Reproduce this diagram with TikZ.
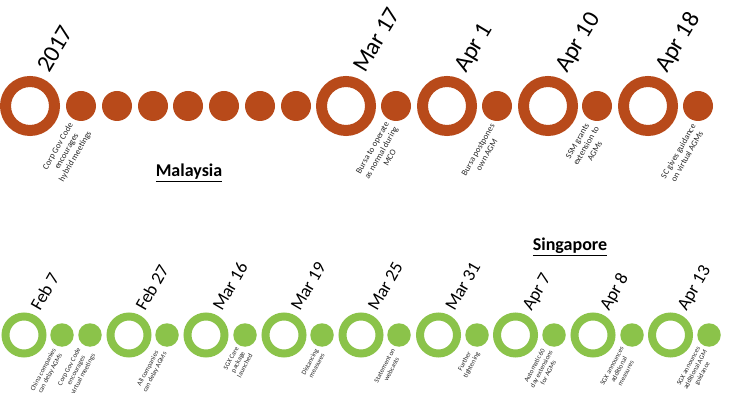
\documentclass[tikz,border=0pt]{standalone}
\usepackage{fontspec}
\setmainfont{Carlito}
\definecolor{myorange}{RGB}{184,74,26}
\definecolor{mygreen}{RGB}{139,195,74}
\definecolor{notegray}{RGB}{40,40,40}
\begin{document}
\begin{tikzpicture}[x=1pt,y=-1pt,
  bigring/.style={circle,draw=myorange,line width=11pt,minimum size=49pt,inner sep=0pt,outer sep=0pt},
  bigdot/.style={circle,fill=myorange,minimum size=30pt,inner sep=0pt,outer sep=0pt},
  smallring/.style={circle,draw=mygreen,line width=8pt,minimum size=37pt,inner sep=0pt,outer sep=0pt},
  smalldot/.style={circle,fill=mygreen,minimum size=23.5pt,inner sep=0pt,outer sep=0pt},
  bigdate/.style={rotate=59,anchor=base west,inner sep=0pt,font=\fontsize{24}{28}\selectfont},
  smalldate/.style={rotate=60,anchor=base west,inner sep=0pt,font=\fontsize{18}{21}\selectfont},
  topnote/.style={rotate=60,anchor=east,align=center,inner sep=0pt,text=notegray,font=\fontsize{8.6}{10}\selectfont},
  botnote/.style={rotate=62,anchor=east,align=center,inner sep=0pt,text=notegray,font=\fontsize{6.8}{7.8}\selectfont},
  heading/.style={font=\bfseries\fontsize{18}{21}\selectfont}
]
\useasboundingbox (0,0) rectangle (746,419);

% ---------- Malaysia row ----------
\node[bigring] (m1) at (30,106) {};
\node[bigdot] (md1) at (81,106) {};
\node[bigdot] (md2) at (117,106) {};
\node[bigdot] (md3) at (153,106) {};
\node[bigdot] (md4) at (188,106) {};
\node[bigdot] (md5) at (224,106) {};
\node[bigdot] (md6) at (260,106) {};
\node[bigdot] (md7) at (296,106) {};
\node[bigring] (m2) at (346,106) {};
\node[bigdot] (md8) at (396,106) {};
\node[bigring] (m3) at (447,106) {};
\node[bigdot] (md9) at (497,106) {};
\node[bigring] (m4) at (548,106) {};
\node[bigdot] (md10) at (597,106) {};
\node[bigring] (m5) at (648,106) {};
\node[bigdot] (md11) at (698,106) {};

\node[bigdate] (ml1) at ([shift={(19,-32)}]m1.center) {2017};
\node[bigdate] (ml2) at ([shift={(19,-32)}]m2.center) {Mar 17};
\node[bigdate] (ml3) at ([shift={(19,-32)}]m3.center) {Apr 1};
\node[bigdate] (ml4) at ([shift={(19,-32)}]m4.center) {Apr 10};
\node[bigdate] (ml5) at ([shift={(19,-32)}]m5.center) {Apr 18};

\node[topnote] (mn1) at ([shift={(0,6)}]md1.south) {Corp Gov Code\\encourages\\hybrid meetings};
\node[topnote] (mn2) at ([shift={(0,6)}]md8.south) {Bursa to operate\\as normal during\\MCO};
\node[topnote] (mn3) at ([shift={(0,6)}]md9.south) {Bursa postpones\\own AGM};
\node[topnote] (mn4) at ([shift={(0,6)}]md10.south) {SSM grants\\extension to\\AGMs};
\node[topnote] (mn5) at ([shift={(0,6)}]md11.south) {SC gives guidance\\on virtual AGMs};

\node[heading] (malaysia) at (189,173) {\underline{Malaysia}};

% ---------- Singapore row ----------
\node[heading] (singapore) at (570,247) {\underline{Singapore}};

\node[smallring] (s1) at (24,335) {};
\node[smalldot] (sd1) at (62,335) {};
\node[smalldot] (sd2) at (90,335) {};
\node[smallring] (s2) at (129,335) {};
\node[smalldot] (sd3) at (167,335) {};
\node[smallring] (s3) at (206,335) {};
\node[smalldot] (sd4) at (245,335) {};
\node[smallring] (s4) at (284,335) {};
\node[smalldot] (sd5) at (322,335) {};
\node[smallring] (s5) at (361,335) {};
\node[smalldot] (sd6) at (399,335) {};
\node[smallring] (s6) at (438.5,335) {};
\node[smalldot] (sd7) at (477,335) {};
\node[smallring] (s7) at (515.5,335) {};
\node[smalldot] (sd8) at (554,335) {};
\node[smallring] (s8) at (593,335) {};
\node[smalldot] (sd9) at (632,335) {};
\node[smallring] (s9) at (670.5,335) {};
\node[smalldot] (sd10) at (709,335) {};

\node[smalldate] (sl1) at ([shift={(16,-23)}]s1.center) {Feb 7};
\node[smalldate] (sl2) at ([shift={(16,-23)}]s2.center) {Feb 27};
\node[smalldate] (sl3) at ([shift={(16,-23)}]s3.center) {Mar 16};
\node[smalldate] (sl4) at ([shift={(16,-23)}]s4.center) {Mar 19};
\node[smalldate] (sl5) at ([shift={(16,-23)}]s5.center) {Mar 25};
\node[smalldate] (sl6) at ([shift={(16,-23)}]s6.center) {Mar 31};
\node[smalldate] (sl7) at ([shift={(16,-23)}]s7.center) {Apr 7};
\node[smalldate] (sl8) at ([shift={(16,-23)}]s8.center) {Apr 8};
\node[smalldate] (sl9) at ([shift={(16,-23)}]s9.center) {Apr 13};

\node[botnote] (sn1) at ([shift={(-4,4)}]sd1.south) {China companies\\can delay AGMs};
\node[botnote] (sn2) at ([shift={(-3,4)}]sd2.south) {Corp Gov Code\\encourages\\virtual meetings};
\node[botnote] (sn3) at ([shift={(-5,4)}]sd3.south) {All companies\\can delay AGMs};
\node[botnote] (sn4) at ([shift={(-1,4)}]sd4.south) {SGX Care\\package\\launched};
\node[botnote] (sn5) at ([shift={(-2,4)}]sd5.south) {Distancing\\measures};
\node[botnote] (sn6) at ([shift={(-2,4)}]sd6.south) {Statement on\\webcasts};
\node[botnote] (sn7) at ([shift={(-2,4)}]sd7.south) {Further\\tightening};
\node[botnote] (sn8) at ([shift={(-3,4)}]sd8.south) {Automatic 60\\day extensions\\for AGMs};
\node[botnote] (sn9) at ([shift={(-3,4)}]sd9.south) {SGX announces\\additional\\measures};
\node[botnote] (sn10) at ([shift={(-3,4)}]sd10.south) {SGX announces\\additional AGM\\guidance};
\end{tikzpicture}
\end{document}
